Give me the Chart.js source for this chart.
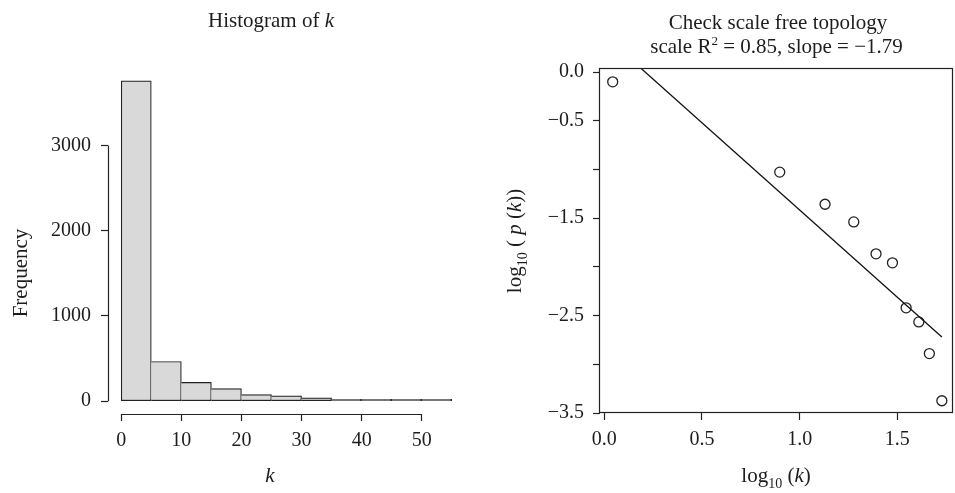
<!DOCTYPE html>
<html>
<head>
<meta charset="utf-8">
<title>Degree distribution</title>
<script src="https://cdn.jsdelivr.net/npm/chart.js@4.4.1/dist/chart.umd.min.js"></script>
<style>
  html, body { margin: 0; padding: 0; background: #fff; overflow: hidden; width: 955px; height: 493px; }
  canvas { position: absolute; top: 0; }
</style>
</head>
<body>
<canvas id="hist" width="480" height="493" style="left:0"></canvas>
<canvas id="sf" width="480" height="493" style="left:480px"></canvas>
<script>
// histogram of connectivity k, bins of width 5
var binStarts = [0, 5, 10, 15, 20, 25, 30, 35, 40, 45, 50];
var binWidth = 5;
var binCounts = [3760, 466, 221, 149, 77, 62, 39, 23, 13, 6, 3];
var histXTicks = [0, 10, 20, 30, 40, 50];
var histYTicks = [0, 1000, 2000, 3000];

// scale free check: log10(k) against log10(p(k))
var logK = [0.043, 0.898, 1.130, 1.277, 1.391, 1.475, 1.545, 1.610, 1.664, 1.728];
var logPk = [-0.10, -1.027, -1.357, -1.538, -1.866, -1.958, -2.42, -2.565, -2.89, -3.374];
var fitLogK = [0.043, 1.728];
var fitLogPk = [0.298, -2.72];
var sfXTicks = [0, 0.5, 1.0, 1.5];
var sfXLabels = ["0.0", "0.5", "1.0", "1.5"];
var sfYTicks = [0, -0.5, -1, -1.5, -2, -2.5, -3, -3.5];
var sfYLabels = ["0.0", "\u22120.5", "", "\u22121.5", "", "\u22122.5", "", "\u22123.5"];
var scaleR2 = "0.85";
var scaleSlope = "\u22121.79";

var FONT = "'Liberation Serif', 'DejaVu Serif', serif";
var INK = "#1f1c1d";
var LINE = "#222222";

function drawRich(ctx, runs, x, y, size, rotate) {
  ctx.save();
  ctx.translate(x, y);
  if (rotate) ctx.rotate(-Math.PI / 2);
  ctx.fillStyle = INK;
  ctx.textBaseline = "alphabetic";
  ctx.textAlign = "left";
  var parts = runs.map(function (r) {
    var s = r.sub ? Math.round(size * 0.68) : (r.sup ? Math.round(size * 0.6) : size);
    var font = (r.italic ? "italic " : "") + s + "px " + FONT;
    ctx.font = font;
    return {
      text: r.text,
      font: font,
      w: ctx.measureText(r.text).width,
      dy: r.sub ? size * 0.3 : (r.sup ? -size * 0.36 : 0)
    };
  });
  var total = parts.reduce(function (a, p) { return a + p.w; }, 0);
  var cx = -total / 2;
  parts.forEach(function (p) {
    ctx.font = p.font;
    ctx.fillText(p.text, cx, p.dy);
    cx += p.w;
  });
  ctx.restore();
}

function textPlugin(items) {
  return {
    id: "richText",
    afterDraw: function (chart) {
      items.forEach(function (it) {
        drawRich(chart.ctx, it.runs, it.x, it.y, it.size, it.rotate);
      });
    }
  };
}

function fixedTicks(values) {
  return function (scale) {
    scale.ticks = values.map(function (v) { return { value: v }; });
  };
}

var tickFont = { family: FONT, size: 20 };

// R style axis lines, running only from first to last tick
var histAxes = {
  id: "histAxes",
  afterDatasetsDraw: function (chart) {
    var a = chart.chartArea;
    var xs = chart.scales.x, ys = chart.scales.y;
    var ctx = chart.ctx;
    ctx.save();
    ctx.strokeStyle = LINE;
    ctx.lineWidth = 1.2;
    ctx.beginPath();
    var by = Math.round(a.bottom) + 0.5;
    ctx.moveTo(xs.getPixelForValue(histXTicks[0]), by);
    ctx.lineTo(xs.getPixelForValue(histXTicks[histXTicks.length - 1]), by);
    var lx = Math.round(a.left) + 0.5;
    ctx.moveTo(lx, ys.getPixelForValue(histYTicks[0]));
    ctx.lineTo(lx, ys.getPixelForValue(histYTicks[histYTicks.length - 1]));
    ctx.stroke();
    ctx.restore();
  }
};

var boxPlugin = {
  id: "plotBox",
  afterDatasetsDraw: function (chart) {
    var a = chart.chartArea;
    var ctx = chart.ctx;
    ctx.save();
    ctx.strokeStyle = LINE;
    ctx.lineWidth = 1.2;
    ctx.strokeRect(Math.round(a.left) - 0.5, Math.round(a.top) + 0.5,
      Math.round(a.right - a.left), Math.round(a.bottom - a.top) - 1);
    ctx.restore();
  }
};

new Chart(document.getElementById("hist"), {
  type: "bar",
  data: {
    datasets: [{
      data: binStarts.map(function (b, i) { return { x: b + binWidth / 2, y: binCounts[i] }; }),
      backgroundColor: "#d9d9d9",
      borderColor: LINE,
      borderWidth: function (c) {
        return { top: 1.2, right: 1.2, bottom: 1.2, left: c.dataIndex === 0 ? 1.2 : 0 };
      },
      borderSkipped: false,
      barPercentage: 1,
      categoryPercentage: 1,
      minBarLength: 2
    }]
  },
  options: {
    responsive: false,
    animation: false,
    events: [],
    layout: { padding: { top: 68, right: 15, bottom: 0, left: 0 } },
    plugins: { legend: { display: false }, tooltip: { enabled: false } },
    scales: {
      x: {
        type: "linear",
        min: -2.2,
        max: 57.2,
        offset: false,
        afterBuildTicks: fixedTicks(histXTicks),
        afterFit: function (s) { s.height = 79; },
        grid: { offset: false, drawOnChartArea: false, tickLength: 7, color: LINE, tickWidth: 1.2 },
        border: { display: false },
        ticks: {
          color: INK, font: tickFont, padding: 8, maxRotation: 0, autoSkip: false,
          callback: function (v) { return String(v); }
        }
      },
      y: {
        type: "linear",
        min: -150,
        max: 3910,
        afterBuildTicks: fixedTicks(histYTicks),
        afterFit: function (s) { s.width = 108; },
        grid: { drawOnChartArea: false, tickLength: 7, color: LINE, tickWidth: 1.2 },
        border: { display: false },
        ticks: {
          color: INK, font: tickFont, padding: 10, autoSkip: false,
          callback: function (v) { return String(v); }
        }
      }
    }
  },
  plugins: [histAxes, textPlugin([
    { runs: [{ text: "Histogram of " }, { text: "k", italic: true }], x: 271, y: 27, size: 21 },
    { runs: [{ text: "Frequency" }], x: 27, y: 273, size: 21, rotate: true },
    { runs: [{ text: "k", italic: true }], x: 270, y: 482, size: 21 }
  ])]
});

new Chart(document.getElementById("sf"), {
  type: "scatter",
  data: {
    datasets: [{
      type: "line",
      data: fitLogK.map(function (v, i) { return { x: v, y: fitLogPk[i] }; }),
      borderColor: "#111",
      borderWidth: 1.3,
      pointRadius: 0,
      fill: false
    }, {
      data: logK.map(function (v, i) { return { x: v, y: logPk[i] }; }),
      pointStyle: "circle",
      pointRadius: 5,
      borderWidth: 1.3,
      borderColor: LINE,
      backgroundColor: "rgba(255,255,255,0)"
    }]
  },
  options: {
    responsive: false,
    animation: false,
    events: [],
    layout: { padding: { top: 68, right: 7, bottom: 0, left: 0 } },
    plugins: { legend: { display: false }, tooltip: { enabled: false } },
    scales: {
      x: {
        type: "linear",
        min: -0.022,
        max: 1.785,
        afterBuildTicks: fixedTicks(sfXTicks),
        afterFit: function (s) { s.height = 80; },
        grid: { drawOnChartArea: false, tickLength: 7, color: LINE, tickWidth: 1.2 },
        border: { display: false },
        ticks: {
          color: INK, font: tickFont, padding: 8, maxRotation: 0, autoSkip: false,
          callback: function (v, i) { return sfXLabels[i]; }
        }
      },
      y: {
        type: "linear",
        min: -3.5,
        max: 0.042,
        afterBuildTicks: fixedTicks(sfYTicks),
        afterFit: function (s) { s.width = 120; },
        grid: { drawOnChartArea: false, tickLength: 7, color: LINE, tickWidth: 1.2 },
        border: { display: false },
        ticks: {
          color: INK, font: tickFont, padding: 9, autoSkip: false,
          callback: function (v, i) { return sfYLabels[i]; }
        }
      }
    }
  },
  plugins: [boxPlugin, textPlugin([
    { runs: [{ text: "Check scale free topology" }], x: 298, y: 28.5, size: 21 },
    { runs: [{ text: "scale R" }, { text: "2", sup: true }, { text: " = " + scaleR2 + ", slope = " + scaleSlope }], x: 296.5, y: 53, size: 21 },
    { runs: [{ text: "log" }, { text: "10", sub: true }, { text: " ( " }, { text: "p", italic: true }, { text: " (" }, { text: "k", italic: true }, { text: "))" }], x: 41, y: 241, size: 21, rotate: true },
    { runs: [{ text: "log" }, { text: "10", sub: true }, { text: " (" }, { text: "k", italic: true }, { text: ")" }], x: 296, y: 482, size: 21 }
  ])]
});
</script>
</body>
</html>
